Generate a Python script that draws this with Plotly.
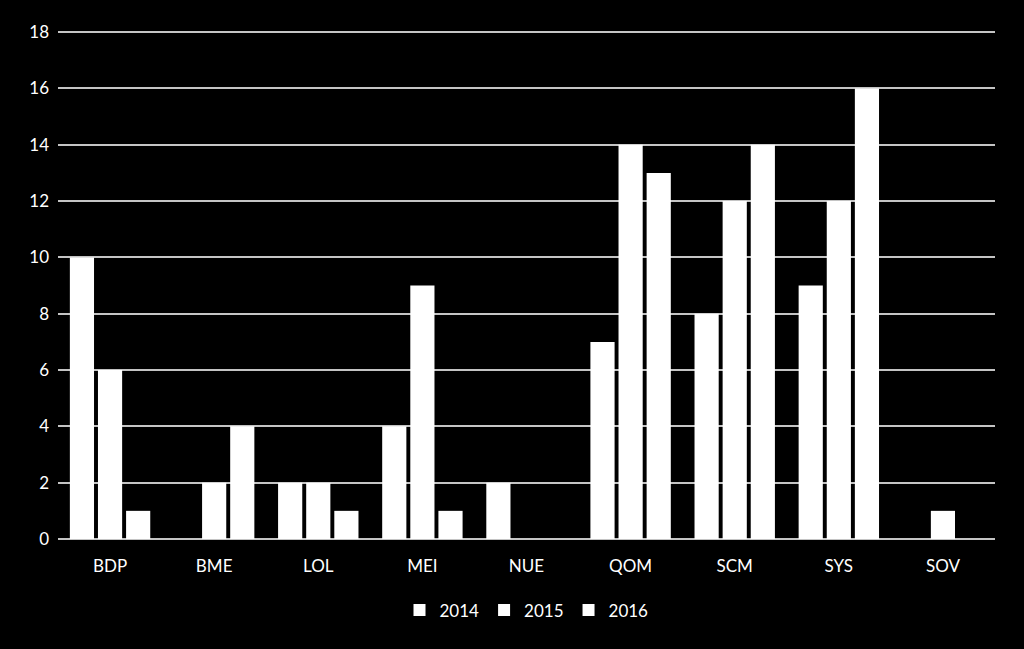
import plotly.graph_objects as go

categories = ["BDP", "BME", "LOL", "MEI", "NUE", "QOM", "SCM", "SYS", "SOV"]
years = ["2014", "2015", "2016"]
v2014 = [10, 0, 2, 4, 2, 7, 8, 9, 0]
v2015 = [6, 2, 2, 9, 0, 14, 12, 12, 1]
v2016 = [1, 4, 1, 1, 0, 13, 14, 16, 0]
tick_vals = [0, 2, 4, 6, 8, 10, 12, 14, 16, 18]

fig = go.Figure()
for name, vals in zip(years, [v2014, v2015, v2016]):
    fig.add_trace(go.Bar(x=categories, y=vals, name=name,
                         marker=dict(color="#ffffff", line=dict(width=0))))

font = "Lato, 'Open Sans', sans-serif"
fig.update_layout(
    width=1024, height=649,
    paper_bgcolor="#000000", plot_bgcolor="#000000",
    margin=dict(l=58, r=29, t=31, b=110),
    barmode="group", bargap=0.19, bargroupgap=0.14,
    font=dict(family=font, size=17, color="#ffffff"),
    showlegend=True,
    legend=dict(orientation="h", x=0.5, xanchor="center", y=-0.105, yanchor="top",
                font=dict(size=17, color="#ffffff"), itemwidth=30, traceorder="normal",
                itemsizing="constant"),
    xaxis=dict(showgrid=False, showline=False, ticks="", tickfont=dict(size=17, color="#ffffff"),
               ticklabelstandoff=15),
    yaxis=dict(range=[0, 18.04], tickvals=tick_vals, showgrid=True, gridcolor="#c4c4c4", gridwidth=1.5,
               zeroline=True, zerolinecolor="#c4c4c4", zerolinewidth=1.5,
               ticks="", tickfont=dict(size=17, color="#ffffff"), ticklabelstandoff=8),
)
fig.write_html("out.html", config={"displayModeBar": False},
               post_script="document.body.style.margin='0';document.body.style.background='#000';")
